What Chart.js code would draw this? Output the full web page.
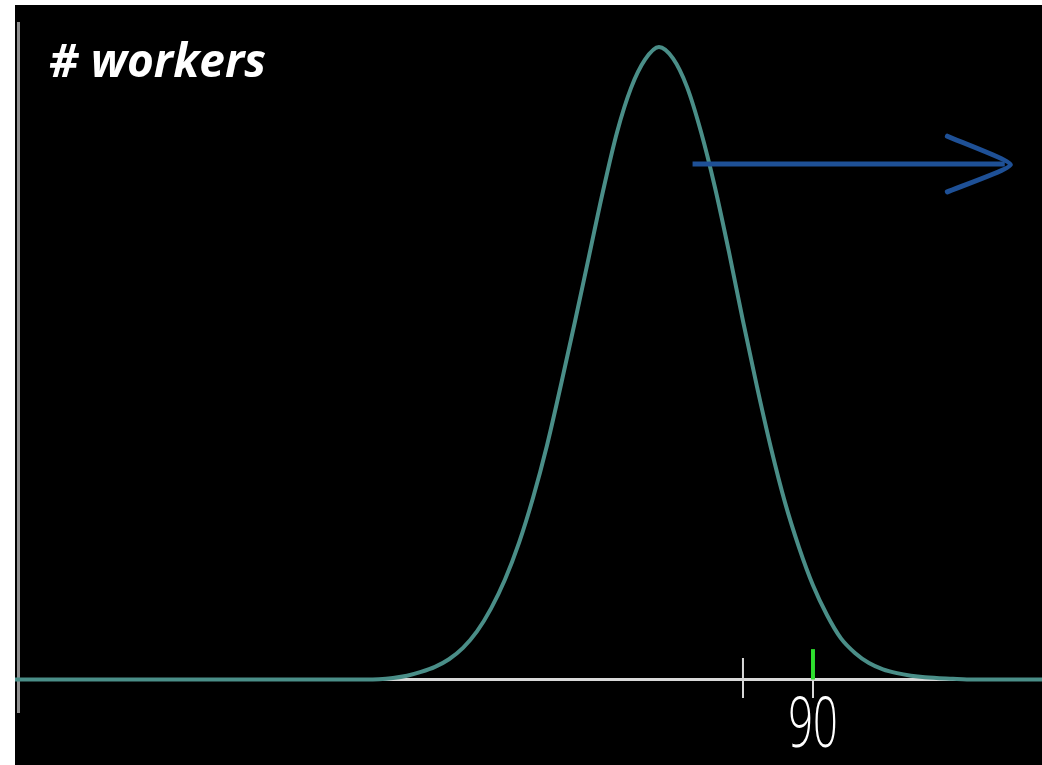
<!DOCTYPE html>
<html>
<head>
<meta charset="utf-8">
<script src="https://cdn.jsdelivr.net/npm/chart.js@4/dist/chart.umd.min.js"></script>
<style>
  html, body { margin: 0; padding: 0; background: #ffffff; }
  #wrap { position: absolute; left: 15px; top: 5px; width: 1027px; height: 760px; background: #000000; }
  canvas { display: block; }
</style>
</head>
<body>
<div id="wrap"><canvas id="workersChart" width="1027" height="760"></canvas></div>
<script>
// bell curve (x in score units, y in % of peak)
const curveX = [33, 58, 59, 60, 61, 62, 63, 64, 65, 66, 67, 68, 69, 70, 71, 72, 73, 74, 75, 76, 77, 78, 79,
  80, 81, 82, 83, 84, 85, 86, 87, 88, 89, 90, 91, 92, 93, 94, 95, 96, 97, 98, 100, 101, 106.36];
const curveY = [0, 0, 0.05, 0.25, 0.6, 1.2, 2.0, 3.2, 5.0, 7.6, 11.2, 15.8, 21.6, 28.7, 37.0, 46.6, 56.6, 66.9, 77.2, 86.5, 93.5, 98.0, 100,
  98.2, 93.7, 86.6, 77.8, 67.6, 56.7, 46.3, 36.6, 28.0, 20.9, 14.9, 10.2, 6.5, 4.2, 2.6, 1.6, 1.0, 0.6, 0.35, 0.1, 0, 0];

// x axis ticks
const tickValues = [85, 90];
const tickLabels = ['', '90'];
const markedValue = 90; // green marker

// arrow pointing right
const arrowShaftX = [81.4, 103.7];
const arrowShaftY = [81.5, 81.5];
const arrowHeadX = [99.6, 104.1, 99.6];
const arrowHeadY = [85.9, 81.4, 77.1];

const yTitle = '# workers';

const toPoints = (xs, ys) => xs.map((x, i) => ({ x: x, y: ys[i] }));

// tick marks above the axis line (the part below comes from the axis itself)
const tickUp = [];
tickValues.forEach(v => {
  tickUp.push({ x: v, y: 0 }, { x: v, y: 3.4 }, { x: v, y: null });
});

const cornerTitle = {
  id: 'cornerTitle',
  afterDraw(chart) {
    const c = chart.ctx;
    c.save();
    c.font = 'italic bold 46px "Open Sans", "DejaVu Sans", sans-serif';
    c.fillStyle = '#ffffff';
    c.textBaseline = 'alphabetic';
    c.fillText(yTitle, 34, 72);
    c.restore();
  }
};

// the tick label in the picture uses a narrow face, squeeze it horizontally
const narrowLabels = {
  id: 'narrowLabels',
  beforeDraw(chart) {
    const sx = chart.scales.x;
    if (sx.$narrow) return;
    const orig = sx.drawLabels;
    sx.drawLabels = function (area) {
      const c = this.ctx;
      const px = this.getPixelForValue(tickValues[tickLabels.findIndex(l => l)]);
      c.save();
      c.translate(px, 0);
      c.scale(0.62, 1);
      c.translate(-px, 0);
      orig.call(this, area);
      c.restore();
    };
    sx.$narrow = true;
  }
};

const chart = new Chart(document.getElementById('workersChart').getContext('2d'), {
  type: 'line',
  data: {
    datasets: [
      {
        label: 'arrow',
        data: toPoints(arrowShaftX, arrowShaftY),
        borderColor: '#1e5096',
        borderWidth: 5,
        pointRadius: 0
      },
      {
        label: 'arrow head',
        data: toPoints(arrowHeadX, arrowHeadY),
        borderColor: '#1e5096',
        borderWidth: 5,
        borderCapStyle: 'round',
        pointRadius: 0,
        tension: 0.15
      },
      {
        label: 'marker',
        data: [{ x: markedValue, y: 0 }, { x: markedValue, y: 4.8 }],
        borderColor: '#2ee02e',
        borderWidth: 4,
        pointRadius: 0
      },
      {
        label: 'ticks',
        data: tickUp,
        borderColor: '#d8d8d8',
        borderWidth: 2,
        pointRadius: 0,
        spanGaps: false
      },
      {
        label: 'workers',
        data: toPoints(curveX, curveY),
        borderColor: '#4a8e88',
        borderWidth: 4,
        pointRadius: 0,
        cubicInterpolationMode: 'monotone'
      }
    ]
  },
  options: {
    responsive: false,
    animation: false,
    devicePixelRatio: 1,
    layout: { padding: { top: 18, bottom: 53, left: 0, right: 0 } },
    plugins: {
      legend: { display: false },
      tooltip: { enabled: false }
    },
    scales: {
      x: {
        type: 'linear',
        min: 33,
        max: 106.36,
        position: { y: 0 },
        afterBuildTicks: scale => {
          scale.ticks = tickValues.map(v => ({ value: v }));
        },
        grid: {
          display: true,
          drawOnChartArea: false,
          drawTicks: true,
          tickLength: 17,
          color: '#d8d8d8',
          lineWidth: 2
        },
        border: { display: true, color: '#d8d8d8', width: 3 },
        ticks: {
          autoSkip: false,
          maxRotation: 0,
          padding: 0,
          color: '#ffffff',
          font: { family: '"Open Sans", "DejaVu Sans", sans-serif', size: 70, weight: '300', lineHeight: 0.87 },
          callback: (value) => tickLabels[tickValues.indexOf(value)] || ''
        }
      },
      y: {
        type: 'linear',
        min: -5.14,
        max: 103.8,
        position: { x: 33.25 },
        grid: { display: false },
        border: { display: true, color: '#8f8f8f', width: 3 },
        ticks: { display: false }
      }
    }
  },
  plugins: [cornerTitle, narrowLabels]
});
</script>
</body>
</html>
